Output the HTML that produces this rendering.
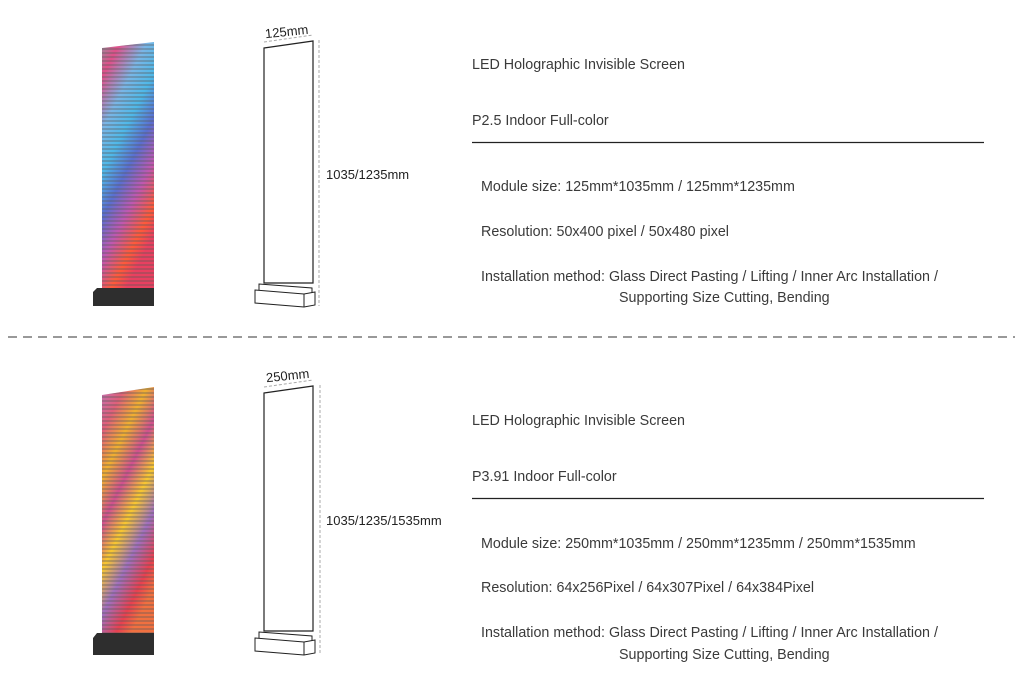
<!DOCTYPE html>
<html><head><meta charset="utf-8"><style>
body{margin:0;width:1022px;height:693px;background:#fff;position:relative;overflow:hidden;font-family:"Liberation Sans",sans-serif;color:#3a3a3a}
.t{position:absolute;font-size:14.3px;white-space:nowrap;line-height:16px}
</style></head><body>
<svg width="1022" height="693" style="position:absolute;left:0;top:0">
<defs>
<linearGradient id="g1" x1="0" y1="0" x2="0.4" y2="1">
<stop offset="0" stop-color="#9a8a9a"/><stop offset="0.12" stop-color="#e0508a"/><stop offset="0.3" stop-color="#7ab6e6"/><stop offset="0.45" stop-color="#4fb8e8"/><stop offset="0.6" stop-color="#5a6fd0"/><stop offset="0.75" stop-color="#c058b0"/><stop offset="0.9" stop-color="#ff5a3a"/><stop offset="1" stop-color="#e84060"/>
</linearGradient>
<linearGradient id="g2" x1="0" y1="0" x2="0.4" y2="1">
<stop offset="0" stop-color="#c070b0"/><stop offset="0.15" stop-color="#e0607a"/><stop offset="0.3" stop-color="#f0b030"/><stop offset="0.45" stop-color="#d05090"/><stop offset="0.6" stop-color="#f8c830"/><stop offset="0.75" stop-color="#a070c0"/><stop offset="0.9" stop-color="#e84050"/><stop offset="1" stop-color="#f07040"/>
</linearGradient>
<pattern id="st" width="4" height="4" patternUnits="userSpaceOnUse"><rect width="4" height="2" fill="rgba(90,90,90,0.35)"/></pattern>
</defs>
<polygon points="102,48 154,42 154,295 102,295" fill="url(#g1)"/>
<polygon points="102,48 154,42 154,295 102,295" fill="url(#st)"/>
<polygon points="97,288 154,288 154,306 93,306 93,292" fill="#2e2e2e"/>
<polygon points="264,48 313,41 313,283 264,283" fill="none" stroke="#222" stroke-width="1.2"/>
<polygon points="259,284 312,288 312,296 259,292" fill="#fff" stroke="#222" stroke-width="1"/>
<polygon points="255,290 304,294 315,292 315,305 304,307 255,303" fill="#fff" stroke="#222" stroke-width="1"/>
<line x1="304" y1="294" x2="304" y2="307" stroke="#222"/>
<line x1="319" y1="40" x2="319" y2="306" stroke="#aaa" stroke-dasharray="3,2"/>
<line x1="264" y1="42" x2="313" y2="35" stroke="#aaa" stroke-dasharray="3,2"/>
<line x1="8" y1="337" x2="1015" y2="337" stroke="#333" stroke-dasharray="9,6"/>
<polygon points="102,395 154,387 154,650 102,650" fill="url(#g2)"/>
<polygon points="102,395 154,387 154,650 102,650" fill="url(#st)"/>
<polygon points="97,633 154,633 154,655 93,655 93,638" fill="#2e2e2e"/>
<polygon points="264,393 313,386 313,631 264,631" fill="none" stroke="#222" stroke-width="1.2"/>
<polygon points="259,632 312,636 312,644 259,640" fill="#fff" stroke="#222" stroke-width="1"/>
<polygon points="255,638 304,642 315,640 315,653 304,655 255,651" fill="#fff" stroke="#222" stroke-width="1"/>
<line x1="304" y1="642" x2="304" y2="655" stroke="#222"/>
<line x1="320" y1="385" x2="320" y2="654" stroke="#aaa" stroke-dasharray="3,2"/>
<line x1="264" y1="387" x2="313" y2="380" stroke="#aaa" stroke-dasharray="3,2"/>
<line x1="472" y1="142.5" x2="984" y2="142.5" stroke="#222" stroke-width="1.2"/>
<line x1="472" y1="498.5" x2="984" y2="498.5" stroke="#222" stroke-width="1.2"/>
</svg>
<div class="t" style="left:265px;top:24px;font-size:13px;color:#222;transform:rotate(-6deg)">125mm</div>
<div class="t" style="left:326px;top:167px;font-size:13px;color:#222">1035/1235mm</div>
<div class="t" style="left:266px;top:368px;font-size:13px;color:#222;transform:rotate(-6deg)">250mm</div>
<div class="t" style="left:326px;top:513px;font-size:13px;color:#222">1035/1235/1535mm</div>

<div class="t" style="left:472px;top:57px">LED Holographic Invisible Screen</div>
<div class="t" style="left:472px;top:113px">P2.5 Indoor Full-color</div>
<div class="t" style="left:481px;top:179px">Module size: 125mm*1035mm / 125mm*1235mm</div>
<div class="t" style="left:481px;top:224px">Resolution: 50x400 pixel / 50x480 pixel</div>
<div class="t" style="left:481px;top:269px">Installation method: Glass Direct Pasting / Lifting / Inner Arc Installation /</div>
<div class="t" style="left:619px;top:290px">Supporting Size Cutting, Bending</div>

<div class="t" style="left:472px;top:413px">LED Holographic Invisible Screen</div>
<div class="t" style="left:472px;top:469px">P3.91 Indoor Full-color</div>
<div class="t" style="left:481px;top:536px">Module size: 250mm*1035mm / 250mm*1235mm / 250mm*1535mm</div>
<div class="t" style="left:481px;top:580px">Resolution: 64x256Pixel / 64x307Pixel / 64x384Pixel</div>
<div class="t" style="left:481px;top:625px">Installation method: Glass Direct Pasting / Lifting / Inner Arc Installation /</div>
<div class="t" style="left:619px;top:647px">Supporting Size Cutting, Bending</div>
</body></html>
